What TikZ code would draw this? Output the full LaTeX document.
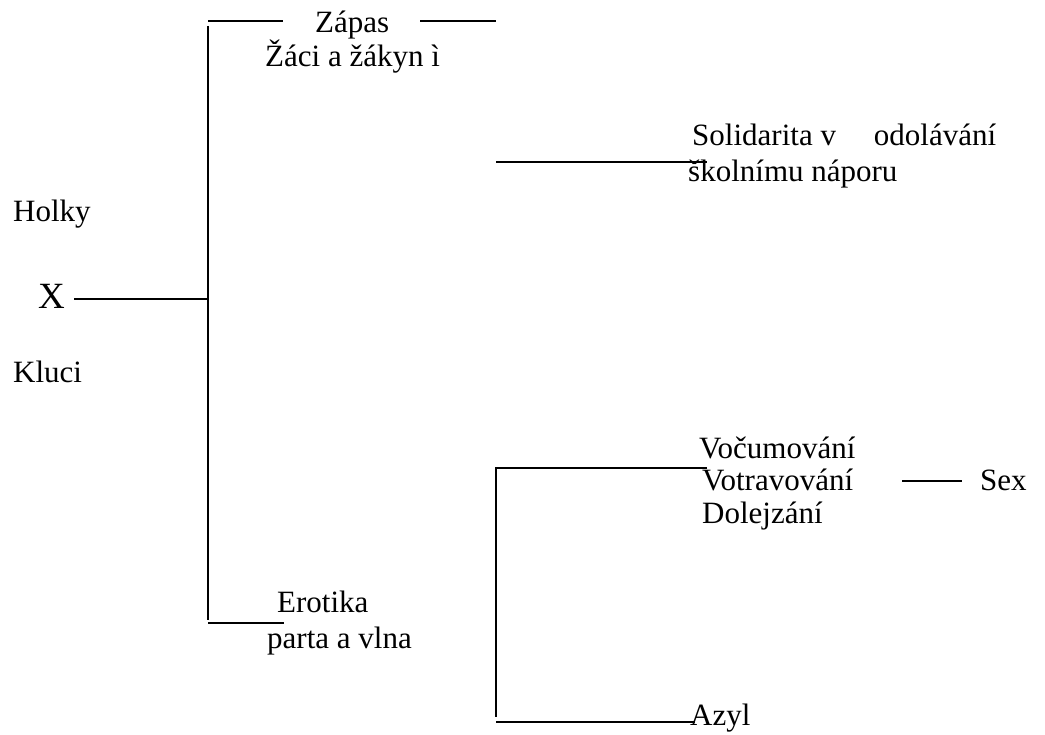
\documentclass[tikz,border=0pt]{standalone}
\usepackage{fontspec}
\setmainfont{Liberation Serif}
\begin{document}
\begin{tikzpicture}[x=1pt,y=-1pt,
  txt/.style={anchor=base west, inner sep=0pt, font=\rmfamily\fontsize{31}{37}\selectfont},
  bigtxt/.style={anchor=base west, inner sep=0pt, font=\rmfamily\fontsize{37}{44}\selectfont},
  ln/.style={line width=2.2pt}]
\useasboundingbox (0,0) rectangle (1045,735);
% texts
\node[txt] (zapas) at (315,33) {Zápas};
\node[txt] (zaci) at (265,67) {Žáci a žákyn ì};
\node[txt] (sol) at (692,146) {Solidarita v\hspace{38pt}odolávání};
\node[txt] (skol) at (688,182) {školnímu náporu};
\node[txt] (holky) at (13,222) {Holky};
\node[bigtxt] (x) at (38,309) {X};
\node[txt] (kluci) at (13,383) {Kluci};
\node[txt] (voc) at (699,458) {Vočumování};
\node[txt] (vot) at (702,490) {Votravování};
\node[txt] (dol) at (702,523) {Dolejzání};
\node[txt] (sex) at (980,490) {Sex};
\node[txt] (ero) at (277,612) {Erotika};
\node[txt] (parta) at (267,648) {parta a vlna};
\node[txt] (azyl) at (690,725) {Azyl};
% coordinates
\coordinate (xs) at (74,299);
\coordinate (xm) at (208,299);
\coordinate (vt) at (208,26);
\coordinate (vb) at (208,620);
\coordinate (t1a) at (208,21);
\coordinate (t1b) at (283,21);
\coordinate (t2a) at (420,21);
\coordinate (t2b) at (496,21);
\coordinate (ba) at (208,623);
\coordinate (bb) at (284,623);
\coordinate (sa) at (496,162);
\coordinate (sb) at (707,162);
\coordinate (va) at (707,468);
\coordinate (vc) at (496,468);
\coordinate (vd) at (496,717);
\coordinate (aa) at (496,722);
\coordinate (ab) at (695,722);
\coordinate (xa) at (902,481);
\coordinate (xb) at (962,481);
% lines
\draw[ln] (xs) -- (xm);
\draw[ln] (vt) -- (vb);
\draw[ln] (t1a) -- (t1b);
\draw[ln] (t2a) -- (t2b);
\draw[ln] (ba) -- (bb);
\draw[ln] (sa) -- (sb);
\draw[ln] (va) -- (vc) -- (vd);
\draw[ln] (aa) -- (ab);
\draw[ln] (xa) -- (xb);
\end{tikzpicture}
\end{document}
